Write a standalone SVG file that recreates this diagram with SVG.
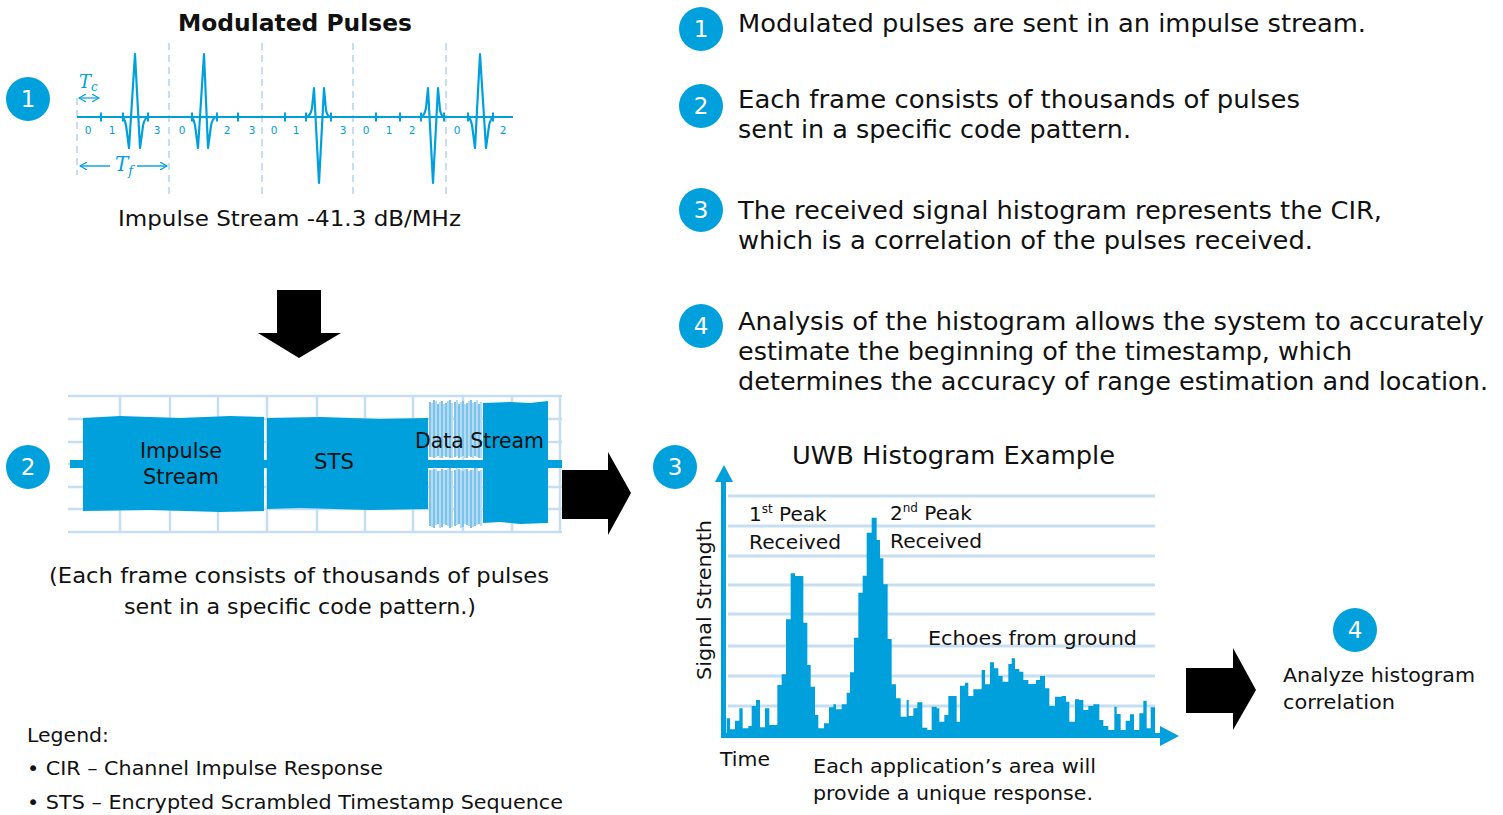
<svg xmlns="http://www.w3.org/2000/svg" width="1503" height="815" viewBox="0 0 1503 815">
<defs>
<style>
.t{font-family:"DejaVu Sans","Liberation Sans",Arial,sans-serif;fill:#111}
.b{fill:#00A0DC}
.num{font-family:"DejaVu Sans","Liberation Sans",Arial,sans-serif;fill:#fff;font-size:23px;text-anchor:middle}
.tick{font-family:"DejaVu Sans","Liberation Sans",Arial,sans-serif;fill:#00A0DC;font-size:10.5px;text-anchor:middle}
.pulse{fill:none;stroke:#00A0DC;stroke-width:2.2;stroke-linejoin:round}
.dash{stroke:#C6DEF1;stroke-width:2;stroke-dasharray:7 5}
.grid{stroke:#C6DEF1;stroke-width:2.5}
.hgrid{stroke:#C6DEF1;stroke-width:3}
.arr{fill:#000}
.ser{font-family:"DejaVu Serif","Liberation Serif",serif;font-style:italic;fill:#00A0DC}
</style>
<marker id="ah" markerWidth="8" markerHeight="8" refX="7" refY="4" orient="auto-start-reverse" markerUnits="userSpaceOnUse">
<path d="M0,0 L7,4 L0,8" fill="none" stroke="#00A0DC" stroke-width="1.2"/>
</marker>
</defs>
<rect width="1503" height="815" fill="#fff"/>

<!-- Section 1: Modulated pulses -->
<g id="pulses">
<text class="t" x="178" y="31" font-size="23" font-weight="bold" textLength="234" lengthAdjust="spacingAndGlyphs">Modulated Pulses</text>
<g>
<line class="dash" x1="77" y1="98" x2="77" y2="175"/>
<line class="dash" x1="169" y1="43" x2="169" y2="195"/>
<line class="dash" x1="262" y1="43" x2="262" y2="195"/>
<line class="dash" x1="353" y1="43" x2="353" y2="195"/>
<line class="dash" x1="446" y1="43" x2="446" y2="195"/>
</g>
<line x1="77" y1="117" x2="513" y2="117" stroke="#00A0DC" stroke-width="2.2"/>
<path stroke="#00A0DC" stroke-width="2" d="M101,112.5V121.5M123,112.5V121.5M148,112.5V121.5M192,112.5V121.5M217,112.5V121.5M238,112.5V121.5M285,112.5V121.5M306,112.5V121.5M331,112.5V121.5M376,112.5V121.5M400,112.5V121.5M421,112.5V121.5M444,112.5V121.5M468,112.5V121.5M493,112.5V121.5"/>
<path class="pulse" d="M121,117 C124,117 125,121 126,125 L129,148 L135,54 L140,148 L143,126 C144,120 146,117 149,117"/>
<path class="pulse" d="M190,117 C193,117 194,121 195,125 L198,148 L204,54 L208,148 L211,126 C212,120 214,117 217,117"/>
<path class="pulse" d="M306,117 C309,117 311,113 312,108 L314,88 L319,183 L324,88 L326,110 C327,116 329,117 332,117"/>
<path class="pulse" d="M420,117 C423,117 425,113 426,108 L428,88 L433,183 L438,88 L440,110 C441,116 443,117 446,117"/>
<path class="pulse" d="M467,117 C470,117 471,121 472,125 L475,148 L480,54 L486,148 L489,126 C490,120 492,117 495,117"/>
<g>
<text class="tick" x="88" y="134">0</text><text class="tick" x="112" y="134">1</text><text class="tick" x="157" y="134">3</text>
<text class="tick" x="182" y="134">0</text><text class="tick" x="227" y="134">2</text><text class="tick" x="252" y="134">3</text>
<text class="tick" x="274" y="134">0</text><text class="tick" x="296" y="134">1</text><text class="tick" x="343" y="134">3</text>
<text class="tick" x="366" y="134">0</text><text class="tick" x="389" y="134">1</text><text class="tick" x="412" y="134">2</text>
<text class="tick" x="457" y="134">0</text><text class="tick" x="503" y="134">2</text>
</g>
<text class="ser" x="79" y="88" font-size="18">T<tspan font-size="12" dy="3">c</tspan></text>
<line x1="79" y1="98" x2="99" y2="98" stroke="#00A0DC" stroke-width="1.2" marker-start="url(#ah)" marker-end="url(#ah)"/>
<line x1="80" y1="166" x2="110" y2="166" stroke="#00A0DC" stroke-width="1.4" marker-start="url(#ah)"/>
<line x1="137" y1="166" x2="167" y2="166" stroke="#00A0DC" stroke-width="1.4" marker-end="url(#ah)"/>
<text class="ser" x="115" y="171" font-size="20">T<tspan font-size="13" dy="4">f</tspan></text>
<text class="t" x="118" y="226" font-size="22" textLength="343" lengthAdjust="spacingAndGlyphs">Impulse Stream -41.3 dB/MHz</text>
</g>

<!-- Section 2: frame -->
<g id="frame">
<path class="grid" d="M68,396H562M68,419H562M68,442H562M68,464H562M68,487H562M68,509H562M68,532H562M120,396V532M170,396V532M218,396V532M267,396V532M317,396V532M365,396V532M413,396V532M463,396V532M512,396V532M560,396V532"/>
<rect class="b" x="70" y="460" width="492" height="8"/>
<path class="b" d="M83,418 L120,416 L180,418 L230,416 L264,417 L264,511 L220,512 L150,510 L83,511 Z"/>
<path class="b" d="M267,418 L320,417 L380,419 L428,418 L428,509 L370,510 L300,508 L267,509 Z"/>
<g stroke-width="2">
<path stroke="#7CC4EB" d="M430,402V457M434,400V458M438,404V456M442,401V458M446,403V457M450,400V458M455,402V457M459,404V458M463,401V456M467,403V458M471,400V457M475,402V456M479,404V458M430,470V526M434,469V528M438,471V524M442,469V527M446,470V525M450,468V528M455,470V526M459,469V524M463,471V527M467,469V525M471,470V528M475,468V526M479,471V524"/>
<path stroke="#B3DBF3" d="M432,403V457M436,401V457M440,402V458M444,404V456M448,401V457M452,403V458M457,400V456M461,402V457M465,404V458M469,401V456M473,403V458M477,400V457M481,402V458M432,470V527M436,469V525M440,471V528M444,470V524M448,469V526M452,471V527M457,468V525M461,470V528M465,469V524M469,471V526M473,470V527M477,468V525M481,470V526"/>
</g>
<path class="b" d="M483,403 L510,402 L530,403 L548,401 L548,523 L520,524 L500,522 L483,523 Z"/>
<text class="t" x="140" y="458" font-size="21" textLength="82" lengthAdjust="spacingAndGlyphs">Impulse</text>
<text class="t" x="143" y="484" font-size="21" textLength="76" lengthAdjust="spacingAndGlyphs">Stream</text>
<text class="t" x="314" y="469" font-size="21" textLength="40" lengthAdjust="spacingAndGlyphs">STS</text>
<text class="t" x="415" y="448" font-size="21" textLength="129" lengthAdjust="spacingAndGlyphs">Data Stream</text>
<text class="t" x="49" y="583" font-size="22" textLength="500" lengthAdjust="spacingAndGlyphs">(Each frame consists of thousands of pulses</text>
<text class="t" x="124" y="614" font-size="22" textLength="352" lengthAdjust="spacingAndGlyphs">sent in a specific code pattern.)</text>
</g>

<!-- Section 3: histogram -->
<g id="histogram">
<text class="t" x="792" y="464" font-size="25" textLength="323" lengthAdjust="spacingAndGlyphs">UWB Histogram Example</text>
<path class="hgrid" d="M728,496H1155M728,526H1155M728,556H1155M728,585H1155M728,614H1155M728,646H1155M728,676H1155M728,706H1155"/>
<path class="b" transform="translate(680 460) scale(0.33333)" d="M140,828 V775 H150 V808 H165 V782 H178 V745 H188 V805 H205 V798 H215 V738 H228 V720 H240 V802 H255 V745 H268 V795 H292 V675 H305 V643 H318 V478 H332 V340 H345 V348 H370 V488 H382 V615 H392 V680 H405 V765 H415 V805 H432 V790 H447 V742 H460 V733 H468 V748 H485 V733 H500 V698 H510 V637 H522 V533 H535 V398 H548 V347 H560 V218 H575 V173 H590 V240 H600 V295 H610 V373 H623 V537 H635 V673 H648 V715 H662 V770 H680 V720 H686 V768 H700 V745 H712 V727 H727 V803 H742 V810 H755 V740 H770 V745 H778 V785 H793 V765 H805 V708 H830 V785 H840 V677 H855 V668 H865 V708 H880 V688 H905 V630 H915 V673 H930 V607 H942 V625 H955 V648 H968 V665 H985 V612 H995 V595 H1005 V627 H1018 V635 H1030 V660 H1045 V672 H1068 V660 H1080 V648 H1095 V685 H1108 V738 H1125 V710 H1145 V708 H1158 V725 H1168 V785 H1185 V718 H1198 V720 H1210 V750 H1225 V738 H1240 V733 H1258 V780 H1270 V798 H1285 V810 H1303 V740 H1310 V762 H1322 V810 H1337 V782 H1350 V763 H1362 V810 H1378 V760 H1390 V722 H1400 V805 H1412 V742 H1425 V828 Z"/>
<rect class="b" x="721" y="478" width="5" height="260"/>
<path class="b" d="M724,465 L733,482 L715,482 Z"/>
<rect class="b" x="721" y="733" width="442" height="5"/>
<path class="b" d="M1179,736 L1160,726 L1160,746 Z"/>
<text class="t" x="749" y="521" font-size="20">1<tspan font-size="12" dy="-8">st</tspan><tspan dy="8"> Peak</tspan></text>
<text class="t" x="749" y="549" font-size="20" textLength="92" lengthAdjust="spacingAndGlyphs">Received</text>
<text class="t" x="890" y="520" font-size="20">2<tspan font-size="12" dy="-8">nd</tspan><tspan dy="8"> Peak</tspan></text>
<text class="t" x="890" y="548" font-size="20" textLength="92" lengthAdjust="spacingAndGlyphs">Received</text>
<text class="t" x="928" y="645" font-size="20" textLength="209" lengthAdjust="spacingAndGlyphs">Echoes from ground</text>
<text class="t" transform="translate(711 680) rotate(-90)" font-size="20" textLength="160" lengthAdjust="spacingAndGlyphs">Signal Strength</text>
<text class="t" x="720" y="766" font-size="20" textLength="50" lengthAdjust="spacingAndGlyphs">Time</text>
<text class="t" x="813" y="773" font-size="20" textLength="283" lengthAdjust="spacingAndGlyphs">Each application’s area will</text>
<text class="t" x="813" y="800" font-size="20" textLength="280" lengthAdjust="spacingAndGlyphs">provide a unique response.</text>
</g>

<!-- Section 4 -->
<g id="analyze">
<text class="t" x="1283" y="682" font-size="20" textLength="192" lengthAdjust="spacingAndGlyphs">Analyze histogram</text>
<text class="t" x="1283" y="709" font-size="20" textLength="112" lengthAdjust="spacingAndGlyphs">correlation</text>
</g>

<!-- Number badges -->
<g id="badges">
<circle class="b" cx="28" cy="99" r="22"/><text class="num" x="28" y="107">1</text>
<circle class="b" cx="28" cy="467" r="22"/><text class="num" x="28" y="475">2</text>
<circle class="b" cx="675" cy="467" r="22"/><text class="num" x="675" y="475">3</text>
<circle class="b" cx="1355" cy="630" r="22"/><text class="num" x="1355" y="638">4</text>
<circle class="b" cx="701" cy="29" r="22"/><text class="num" x="701" y="37">1</text>
<circle class="b" cx="701" cy="106" r="22"/><text class="num" x="701" y="114">2</text>
<circle class="b" cx="701" cy="210" r="22"/><text class="num" x="701" y="218">3</text>
<circle class="b" cx="701" cy="326" r="22"/><text class="num" x="701" y="334">4</text>
</g>

<!-- Steps text -->
<g id="steps">
<text class="t" x="738" y="32" font-size="24" textLength="628" lengthAdjust="spacingAndGlyphs">Modulated pulses are sent in an impulse stream.</text>
<text class="t" x="738" y="108" font-size="24" textLength="562" lengthAdjust="spacingAndGlyphs">Each frame consists of thousands of pulses</text>
<text class="t" x="738" y="138" font-size="24" textLength="393" lengthAdjust="spacingAndGlyphs">sent in a specific code pattern.</text>
<text class="t" x="738" y="219" font-size="24" textLength="644" lengthAdjust="spacingAndGlyphs">The received signal histogram represents the CIR,</text>
<text class="t" x="738" y="249" font-size="24" textLength="575" lengthAdjust="spacingAndGlyphs">which is a correlation of the pulses received.</text>
<text class="t" x="738" y="330" font-size="24" textLength="746" lengthAdjust="spacingAndGlyphs">Analysis of the histogram allows the system to accurately</text>
<text class="t" x="738" y="360" font-size="24" textLength="614" lengthAdjust="spacingAndGlyphs">estimate the beginning of the timestamp, which</text>
<text class="t" x="738" y="390" font-size="24" textLength="750" lengthAdjust="spacingAndGlyphs">determines the accuracy of range estimation and location.</text>
</g>

<!-- Legend -->
<g id="legend">
<text class="t" x="27" y="742" font-size="20" textLength="82" lengthAdjust="spacingAndGlyphs">Legend:</text>
<text class="t" x="27" y="775" font-size="20" textLength="356" lengthAdjust="spacingAndGlyphs">• CIR – Channel Impulse Response</text>
<text class="t" x="27" y="809" font-size="20" textLength="536" lengthAdjust="spacingAndGlyphs">• STS – Encrypted Scrambled Timestamp Sequence</text>
</g>

<!-- Connectors (block arrows) -->
<g id="connectors">
<path class="arr" d="M277,290 H321 V333 H341 L299,358 L258,333 H277 Z"/>
<path class="arr" d="M562,470 H608 V452 L631,493 L608,535 V519 H562 Z"/>
<path class="arr" d="M1186,668 H1233 V648 L1256,690 L1233,730 V713 H1186 Z"/>
</g>
</svg>
